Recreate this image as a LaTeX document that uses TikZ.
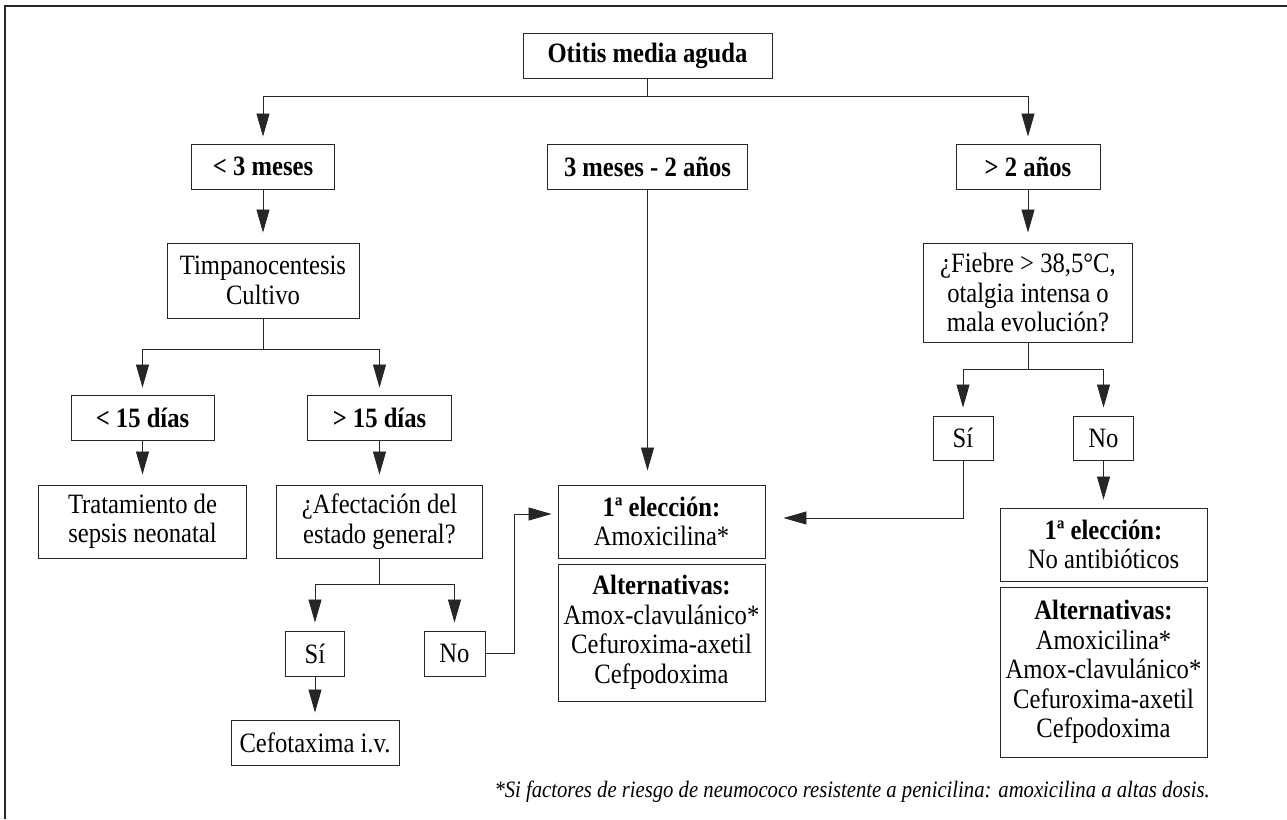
\documentclass[tikz,border=0pt]{standalone}
\usepackage{fontspec}
\setmainfont{Liberation Serif}[FakeStretch=0.88]
\usetikzlibrary{arrows.meta}
\begin{document}
\begin{tikzpicture}[x=1pt, y=-1pt,
  box/.style={draw=black!85, line width=0.9pt, align=center, inner sep=0pt,
    font=\fontsize{28}{29.5}\selectfont},
  link/.style={draw=black!85, line width=0.8pt,
    -{Triangle[length=23pt,width=13pt]}, shorten >=8pt},
  wire/.style={draw=black!85, line width=0.8pt}]
\useasboundingbox (0,0) rectangle (1287,819);
\draw[line width=1.3pt, black!85] (5,819) -- (5,6) -- (1287,6);
% top level
\node[box, minimum width=249, minimum height=45] (otitis) at (647.5,55.5) {\textbf{Otitis media aguda}};
\node[box, minimum width=143, minimum height=45] (young) at (263,166.5) {\textbf{< 3 meses}};
\node[box, minimum width=200, minimum height=45] (mid) at (647.5,166.5) {\textbf{3 meses - 2 años}};
\node[box, minimum width=144, minimum height=45] (old) at (1028,166.5) {\textbf{> 2 años}};
\coordinate (split1) at (647.5,96);
\draw[wire] (otitis) -- (split1);
\draw[link, shorten >=7pt] (split1) -| (young);
\draw[link, shorten >=7pt] (split1) -| (old);
% left branch
\node[box, minimum width=192, minimum height=75] (timp) at (263,280.5) {Timpanocentesis\\Cultivo};
\draw[link, shorten >=10pt] (young) -- (timp);
\node[box, minimum width=143, minimum height=45] (lt15) at (142.5,417.5) {\textbf{< 15 días}};
\node[box, minimum width=144, minimum height=45] (gt15) at (379.5,417.5) {\textbf{> 15 días}};
\coordinate (split2) at (263,349);
\draw[wire] (timp) -- (split2);
\draw[link, shorten >=7pt] (split2) -| (lt15);
\draw[link, shorten >=7pt] (split2) -| (gt15);
\node[box, minimum width=208, minimum height=73] (trat) at (142.5,521.5) {Tratamiento de\\sepsis neonatal};
\node[box, minimum width=206, minimum height=73] (afect) at (379.5,521.5) {¿Afectación del\\estado general?};
\draw[link, shorten >=10pt] (lt15) -- (trat);
\draw[link, shorten >=10pt] (gt15) -- (afect);
\node[box, minimum width=59, minimum height=45] (si1) at (315,653.5) {Sí};
\node[box, minimum width=61, minimum height=45] (no1) at (454.5,653.5) {No};
\coordinate (split3) at (379.5,584);
\draw[wire] (afect) -- (split3);
\draw[link] (split3) -| (si1);
\draw[link] (split3) -| (no1);
\node[box, minimum width=168, minimum height=45] (cefo) at (315,742.5) {Cefotaxima i.v.};
\draw[link, shorten >=7pt] (si1) -- (cefo);
% middle branch
\node[box, minimum width=207, minimum height=73] (first1) at (661.5,521.5) {\textbf{1ª elección:}\\Amoxicilina*};
\node[box, minimum width=207, minimum height=137] (alt1) at (661.5,632.5) {\textbf{Alternativas:}\\Amox-clavulánico*\\Cefuroxima-axetil\\Cefpodoxima};
\draw[link, shorten >=14pt] (mid) -- (mid |- first1.north);
\coordinate (bend1) at (514,514);
\draw[link, shorten >=6pt] (no1.east) -| (bend1) -- (bend1 -| first1.west);
% right branch
\node[box, minimum width=209, minimum height=99] (fiebre) at (1028,292.5) {¿Fiebre > 38,5°C,\\otalgia intensa o\\mala evolución?};
\draw[link, shorten >=10pt] (old) -- (fiebre);
\node[box, minimum width=60, minimum height=44] (si2) at (963,438) {Sí};
\node[box, minimum width=60, minimum height=44] (no2) at (1103.5,438) {No};
\coordinate (split4) at (1028,369);
\draw[wire] (fiebre) -- (split4);
\draw[link] (split4) -| (si2);
\draw[link] (split4) -| (no2);
\node[box, minimum width=207, minimum height=73] (first2) at (1103.5,544.5) {\textbf{1ª elección:}\\No antibióticos};
\node[box, minimum width=207, minimum height=170] (alt2) at (1103.5,672) {\textbf{Alternativas:}\\Amoxicilina*\\Amox-clavulánico*\\Cefuroxima-axetil\\Cefpodoxima};
\draw[link] (no2) -- (first2);
\coordinate (bend2) at (963,518);
\draw[link, shorten >=18pt] (si2) -- (bend2) -- (bend2 -| first1.east);
% footnote
\node[anchor=base east, inner sep=0pt, font=\fontsize{23.5}{26}\selectfont\itshape] (note) at (1210,797)
  {*Si factores de riesgo de neumococo resistente a penicilina: amoxicilina a altas dosis.};
\end{tikzpicture}
\end{document}
